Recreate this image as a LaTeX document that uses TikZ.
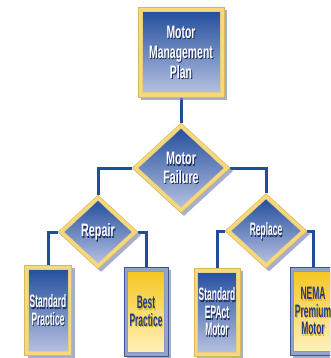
\documentclass[tikz,border=0pt]{standalone}
\usepackage{fontspec}
\setmainfont{Liberation Sans}
\newfontfamily\narrowA[FakeStretch=0.47]{Liberation Sans}
\newfontfamily\narrowB[FakeStretch=0.58]{Liberation Sans}
\newfontfamily\narrowC[FakeStretch=0.6]{Liberation Sans}
\usetikzlibrary{shapes.geometric,shadows}
\definecolor{lineblue}{HTML}{1F4E99}
\definecolor{topblue}{HTML}{25509E}
\definecolor{botblue}{HTML}{B5C0E0}
\definecolor{gold}{HTML}{F7D97C}
\definecolor{goldedge}{HTML}{D8B85A}
\definecolor{topyel}{HTML}{F5C623}
\definecolor{botyel}{HTML}{FFF1B8}
\definecolor{greyblue}{HTML}{95A3CC}
\definecolor{greyedge}{HTML}{3A5594}
\definecolor{shade}{HTML}{7F8BB5}
\definecolor{txtshadow}{HTML}{1A2B5E}
\definecolor{darktxt}{HTML}{1C3C8A}
\definecolor{yelshadow}{HTML}{E0B020}
\tikzset{
  conn/.style={draw=lineblue,line width=3pt},
  shadowed/.style={drop shadow={shadow xshift=3pt,shadow yshift=-3pt,fill=shade,opacity=0.7}},
  goldbox/.style={rectangle,inner sep=0pt,fill=gold,draw=goldedge,line width=0.5pt,shadowed},
  greybox/.style={rectangle,inner sep=0pt,fill=greyblue,draw=greyedge,line width=0.6pt,shadowed},
  golddia/.style={diamond,inner sep=0pt,fill=gold,draw=goldedge,line width=0.5pt,shadowed},
  bluein/.style={inner sep=0pt,top color=topblue,bottom color=botblue,draw=goldedge!70,line width=0.3pt},
  yelin/.style={inner sep=0pt,top color=topyel,bottom color=botyel,draw=greyedge!60,line width=0.3pt},
  txt/.style={align=center,inner sep=0pt},
  fA/.style={font=\narrowA\bfseries\fontsize{18}{17.5}\selectfont},
  fB/.style={font=\narrowB\bfseries\fontsize{18}{20}\selectfont},
  fC/.style={font=\narrowC\bfseries\fontsize{18}{18.5}\selectfont},
}
% #1 node name, #2 font style, #3 text colour, #4 shadow colour, #5 text
\newcommand{\boxlabel}[5]{%
  \node[txt,#2,text=#4] (#1-sh) at ([shift={(0.9pt,-1.6pt)}]#1.center) {#5};
  \node[txt,#2,text=#3] (#1-t) at (#1.center) {#5};
}
\begin{document}
\begin{tikzpicture}[x=1pt,y=-1pt]
\useasboundingbox (0,0) rectangle (330,358);
\begin{scope}
\clip (0,0) rectangle (330,358);
% connector anchors
\node[diamond,minimum width=98pt,minimum height=90pt] (fail0) at (181,168) {};
\node[rectangle,minimum width=86pt,minimum height=90pt] (plan0) at (181,52) {};
\node[diamond,minimum width=80pt,minimum height=74pt] (repair0) at (98,232) {};
\node[diamond,minimum width=82pt,minimum height=75pt] (replace0) at (266,231) {};
\node[rectangle,minimum width=47pt,minimum height=90pt] (sp0) at (48,310) {};
\node[rectangle,minimum width=44pt,minimum height=89pt] (bp0) at (146,311.5) {};
\node[rectangle,minimum width=46pt,minimum height=88pt] (ep0) at (217,312) {};
\node[rectangle,minimum width=46pt,minimum height=88pt] (nm0) at (313,311) {};
\draw[conn] (plan0.south) -- (fail0.north);
\draw[conn] (fail0.west) -| (repair0.north);
\draw[conn] (fail0.east) -| (replace0.north);
\draw[conn] (repair0.west) -| (sp0.north);
\draw[conn] (repair0.east) -| (bp0.north);
\draw[conn] (replace0.west) -| (ep0.north);
\draw[conn] (replace0.east) -| (nm0.north);
% top box
\node[goldbox,minimum width=86pt,minimum height=90pt] (plan) at (181,52) {};
\node[bluein,rectangle,minimum width=78pt,minimum height=81pt] (plan-in) at (181,52) {};
\boxlabel{plan}{fB}{white}{txtshadow}{Motor\\Management\\Plan}
% diamonds
\node[golddia,minimum width=98pt,minimum height=90pt] (fail) at (181,168) {};
\node[bluein,diamond,minimum width=86pt,minimum height=79pt] (fail-in) at (181,168) {};
\boxlabel{fail}{fC}{white}{txtshadow}{Motor\\Failure}
\node[golddia,minimum width=80pt,minimum height=74pt] (repair) at (98,232) {};
\node[bluein,diamond,minimum width=68pt,minimum height=63pt] (repair-in) at (98,232) {};
\boxlabel{repair}{fC}{white}{txtshadow}{Repair}
\node[golddia,minimum width=82pt,minimum height=75pt] (replace) at (266,231) {};
\node[bluein,diamond,minimum width=70pt,minimum height=64pt] (replace-in) at (266,231) {};
\boxlabel{replace}{fA}{white}{txtshadow}{Replace}
% bottom boxes
\node[goldbox,minimum width=47pt,minimum height=90pt] (sp) at (48,310) {};
\node[bluein,rectangle,minimum width=40pt,minimum height=82pt] (sp-in) at (48,310) {};
\boxlabel{sp}{fA}{white}{txtshadow}{Standard\\Practice}
\node[greybox,minimum width=44pt,minimum height=89pt] (bp) at (146,311.5) {};
\node[yelin,rectangle,minimum width=37pt,minimum height=81pt] (bp-in) at (146,311.5) {};
\boxlabel{bp}{fA}{darktxt}{yelshadow}{Best\\Practice}
\node[goldbox,minimum width=46pt,minimum height=88pt] (ep) at (217,312) {};
\node[bluein,rectangle,minimum width=39pt,minimum height=80pt] (ep-in) at (217,312) {};
\boxlabel{ep}{fA}{white}{txtshadow}{Standard\\EPAct\\Motor}
\node[greybox,minimum width=46pt,minimum height=88pt] (nm) at (313,311) {};
\node[yelin,rectangle,minimum width=39pt,minimum height=80pt] (nm-in) at (313,311) {};
\boxlabel{nm}{fA}{darktxt}{yelshadow}{NEMA\\Premium\\Motor}
\end{scope}
\end{tikzpicture}
\end{document}
